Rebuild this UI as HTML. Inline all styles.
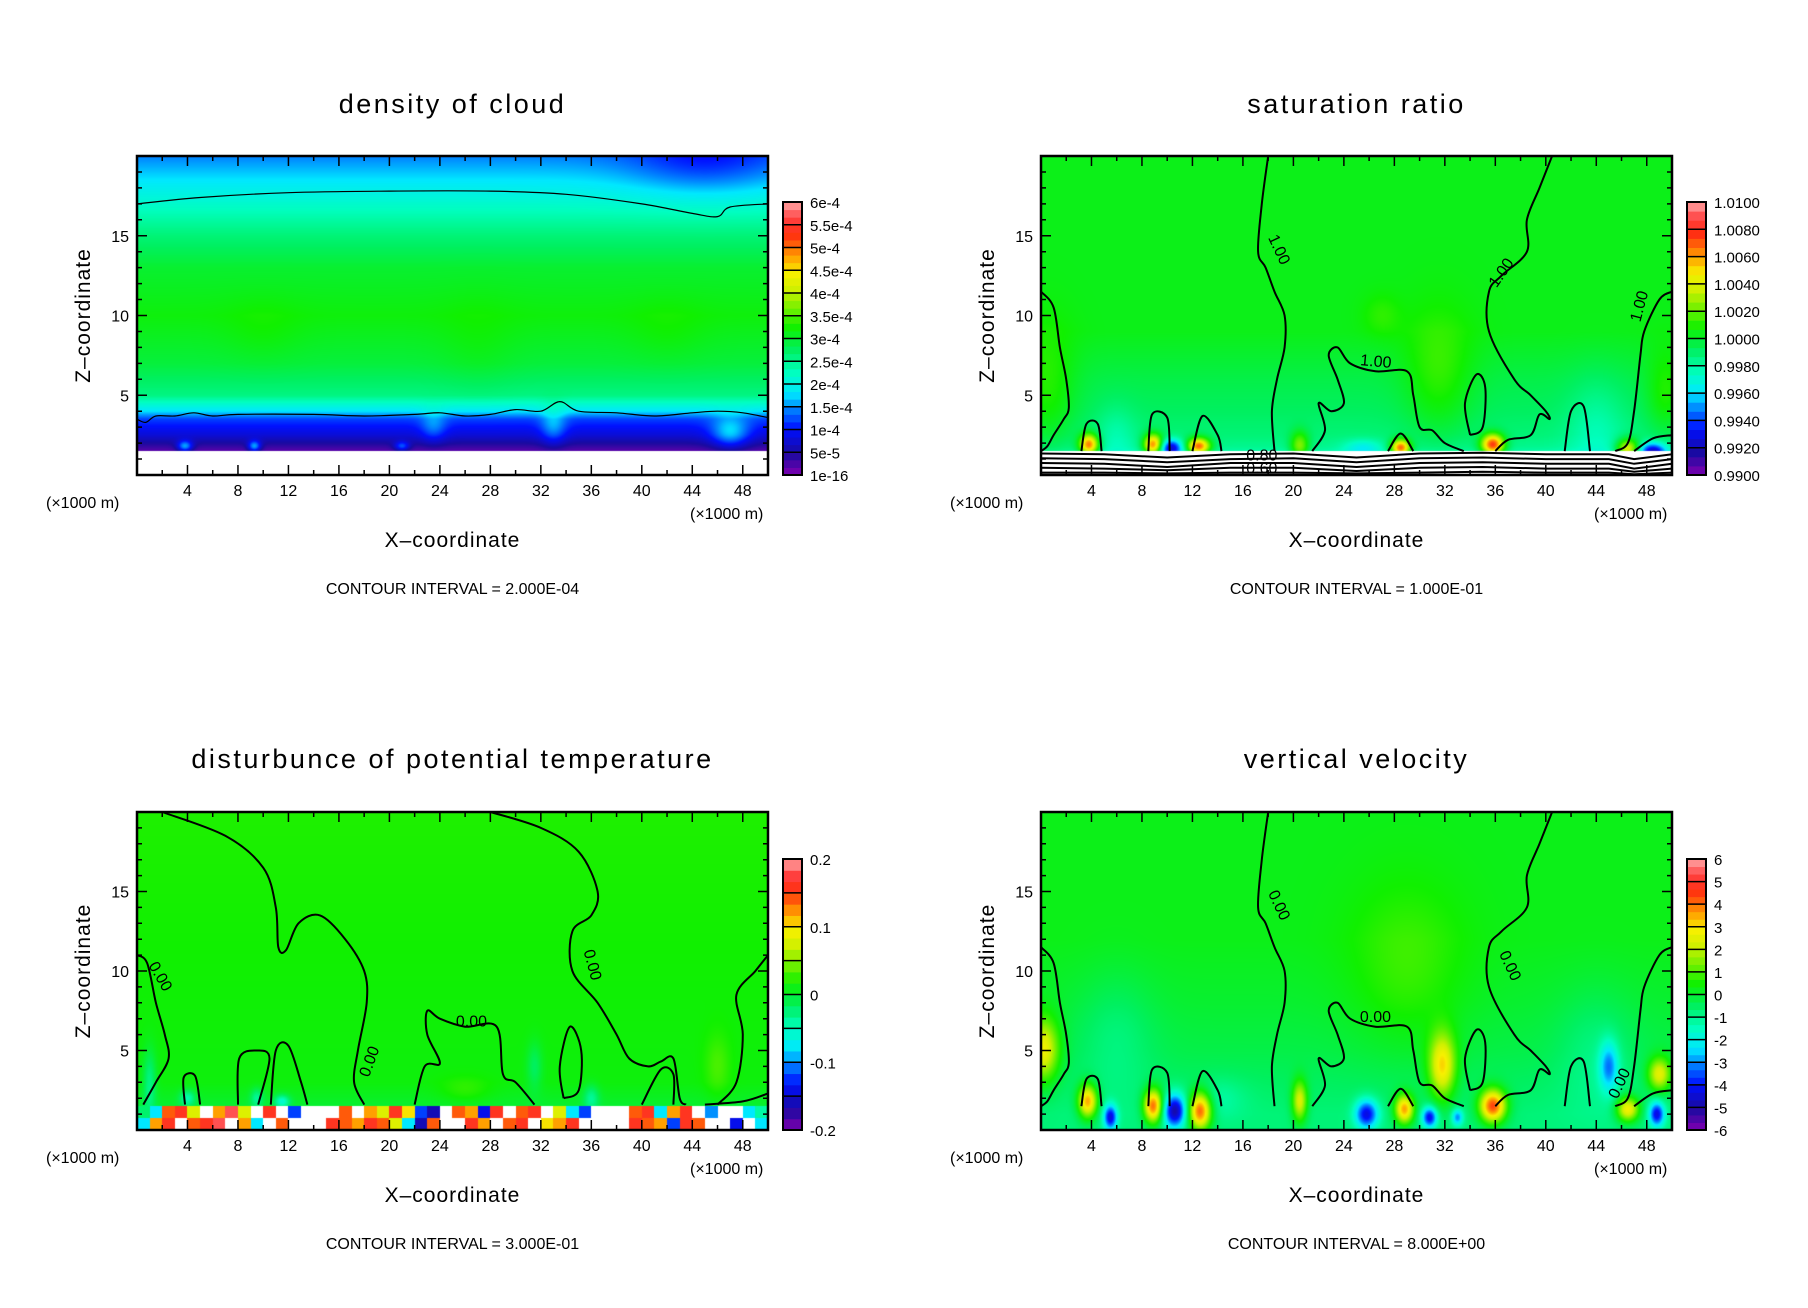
<!DOCTYPE html>
<html><head><meta charset="utf-8"><style>
html,body{margin:0;padding:0;background:#fff;width:1808px;height:1308px;overflow:hidden}
canvas{position:absolute}
#ov{position:absolute;left:0;top:0}
text{font-family:"Liberation Sans",sans-serif;fill:#000}
</style></head><body>
<div id="root"></div>
<svg id="ov" width="1808" height="1308"></svg>
<script>
// ---------- colormap ----------
const cmapStops=[0,0.08,0.17,0.25,0.3,0.375,0.46,0.54,0.62,0.68,0.74,0.8,0.88,0.94,1];
const cmapColors=['#8000b0','#1a0aa0','#0010ff','#0090ff','#00e8ff','#00ffc0','#00f060','#10f000','#80f000','#d0f000','#f8f000','#ffa000','#ff3010','#ff4040','#ffa8a8'];
// ---------- density ----------
const densBaseZ=[1.5,1.9,2.5,3.5,4,5,7,10,13,15,17,18.5,20];
const densBaseV=[0.03,0.07,0.13,0.2,0.3,0.43,0.49,0.53,0.5,0.44,0.36,0.3,0.24];
const densBlobs=[[3.8,1.8,0.6,0.35,0.2],[9.3,1.8,0.5,0.35,0.2],[21,1.8,0.6,0.3,0.15],[23.5,3,1,1,0.08],[33,3,1,1.2,0.1],[47,2.6,1.5,1,0.15],[45,19.5,6,2,-0.08],[10,9,3,2,0.02],[27,8,3,3,0.02],[42,9,3,2,0.02]];
const densLabels=['1e-16','5e-5','1e-4','1.5e-4','2e-4','2.5e-4','3e-4','3.5e-4','4e-4','4.5e-4','5e-4','5.5e-4','6e-4'];
const densLines=[
 [[0,17],[5,17.4],[12,17.7],[20,17.8],[28,17.8],[34,17.6],[40,17],[44,16.4],[46,16.2],[47,16.8],[50,17]],
 [[0,3.5],[0.7,3.3],[1.5,3.7],[3,3.7],[4.5,3.9],[6,3.7],[8,3.8],[14,3.8],[18,3.7],[22,3.8],[24,3.9],[26,3.7],[28,3.8],[30,4.1],[32,4],[33.5,4.6],[35,4],[38,3.9],[41,3.7],[44,3.9],[46,4],[48,3.9],[50,3.6]]];
// ---------- saturation ----------
const satBaseZ=[1.5,1.8,2.5,4,6,9,20];
const satBaseV=[0.4,0.42,0.44,0.46,0.48,0.52,0.52];
const satBlobs=[[3.8,1.9,0.5,0.5,0.4],[8.9,1.9,0.5,0.5,0.4],[12.5,1.8,0.6,0.4,0.42],[20.5,1.8,0.5,0.7,0.2],[28.5,1.7,0.5,0.4,0.42],[35.8,1.9,0.6,0.5,0.45],[46.5,1.6,0.6,0.5,0.3],[0.5,5,1.5,3,0.08],[31.5,6,1.8,3,0.08],[27,10,1,1,0.04],[49.5,5,1,2,0.08],[10.3,1.7,0.6,0.4,-0.3],[48.5,1.5,0.7,0.4,-0.3],[25.5,1.7,1,0.4,-0.1],[6,2.5,1,1.5,-0.05],[44,3,1.5,2.5,-0.06]];
const satLabels=['0.9900','0.9920','0.9940','0.9960','0.9980','1.0000','1.0020','1.0040','1.0060','1.0080','1.0100'];
const satBottomX=[0,5,10,15,20,25,30,35,40,45,47,50];
const satBottomZ=[[1.35,1.3,1.1,1.3,1.35,1.1,1.35,1.4,1.3,1.3,1.0,1.3],[1.05,1.0,0.8,1.0,1.05,0.8,1.05,1.1,1.0,1.0,0.7,1.0],[0.75,0.7,0.5,0.75,0.75,0.5,0.75,0.8,0.7,0.7,0.4,0.7],[0.45,0.4,0.3,0.45,0.45,0.25,0.45,0.5,0.4,0.4,0.2,0.4],[0.15,0.15,0.1,0.15,0.15,0.1,0.15,0.2,0.15,0.15,0.05,0.15]];
// ---------- theta ----------
const thBaseZ=[1.5,3,20];
const thBaseV=[0.5,0.53,0.55];
const thBlobs=[[1,3,0.5,2,-0.1],[4,2,0.6,0.5,-0.12],[9.5,2,0.5,0.6,-0.1],[11.5,1.8,0.6,0.4,-0.15],[31.5,4,0.6,1.5,-0.07],[36,2,0.6,0.8,-0.1],[46,4,1,2,0.05],[26,2.5,2,0.8,0.04]];
const thLabels=['-0.2','','-0.1','','0','','0.1','','0.2'];
const thStripTop=[0.45,0.3,0.85,0.9,0.7,-1,0.8,0.95,0.7,-1,0.9,-1,0.2,-1,-1,-1,0.85,-1,0.8,0.7,0.9,0.75,0.2,0.1,-1,0.85,0.8,0.15,0.9,-1,0.85,0.9,-1,0.7,0.3,0.2,-1,-1,-1,0.85,0.9,0.3,0.8,0.9,-1,0.25,-1,-1,0.3,0.4];
const thStripBot=[0.3,0.8,0.9,-1,0.85,0.9,0.95,-1,0.8,0.3,-1,0.85,-1,-1,-1,0.9,0.85,0.8,0.9,0.85,0.7,0.3,0.1,0.85,-1,-1,0.9,0.8,-1,0.85,0.9,-1,0.75,0.8,0.9,-1,-1,-1,-1,0.9,0.85,0.8,0.2,0.9,0.85,-1,-1,0.15,-1,0.3];
const thLines=[
 [[2,20],[7,18.5],[10,16.5],[11,14],[11.2,11.5],[11.8,11.3],[12.8,13],[14.5,13.5],[16.5,12],[18,10],[18.2,8],[17.5,5],[17.2,3],[18,1.6]],
 [[0,11],[0.8,10.5],[1.5,8],[2.2,6],[2.5,4.5],[1.5,3],[0.5,1.6]],
 [[28,20],[32,19],[35,17.5],[36.5,15],[36,13.5],[34.5,12.5],[34.5,10],[36.5,8],[38,6],[39,4.5],[40.5,4],[41.5,4.3],[42.5,4.5],[43,2],[43.5,1.6]],
 [[3.8,1.6],[3.7,3.3],[4.6,3.4],[5,1.6]],
 [[8,1.6],[8.1,4.5],[9.5,5],[10.5,4.5],[9.6,1.6]],
 [[10.6,1.6],[11,5],[12,5.3],[13,3],[13.5,1.6]],
 [[22,1.6],[22.8,4],[24,4.2],[23,6],[23,7.5],[24,7],[26,6.5],[28.5,6.5],[29,3.5],[30,3],[31.5,1.6]],
 [[33.8,2],[33.5,4],[34.3,6.5],[35.2,5],[35,2.5],[33.8,2]],
 [[40,1.6],[41.5,3.8],[42.5,3.5],[42.5,1.6]],
 [[50,11],[49,10],[47.5,8.5],[48,6],[47.5,3],[46,1.6]],
 [[45,1.6],[48,1.8],[50,2.3]]];
// ---------- vertical velocity ----------
const wBaseZ=[0,1,2,3,5,8,12,20];
const wBaseV=[0.44,0.44,0.45,0.46,0.48,0.5,0.52,0.52];
const wBlobs=[[3.7,1.8,0.5,0.8,0.35],[8.9,1.5,0.5,0.8,0.4],[12.6,1.2,0.6,0.9,0.42],[20.5,1.8,0.4,1,0.25],[28.8,1.3,0.5,0.7,0.35],[31.8,4,0.7,1.6,0.28],[35.8,1.5,0.7,0.8,0.42],[46.5,1.3,0.6,0.6,0.3],[49,3.5,0.6,0.8,0.25],[0.2,5,0.8,1.5,0.25],[29,10,3,4,0.06],[5.5,0.8,0.35,0.6,-0.3],[10.6,1.2,0.6,0.8,-0.35],[25.8,1,0.6,0.7,-0.3],[30.8,0.8,0.4,0.5,-0.3],[33,0.8,0.3,0.4,-0.2],[45,4,0.5,1.2,-0.2],[48.8,1,0.4,0.6,-0.3],[14,2,1.5,1,-0.05],[6,6,2,3,-0.05],[44,5,2,3,-0.05]];
const wLabels=['-6','-5','-4','-3','-2','-1','0','1','2','3','4','5','6'];
const sharedLines=[
 [[0,11.5],[1,10.5],[1.5,8],[2,6],[2.2,4.2],[1.8,3.5],[1,2.5],[0.5,1.8],[0,1.5]],
 [[18,20],[17.5,17],[17.2,14],[17.8,13],[18.5,11.5],[19.3,10],[19.3,8],[18.7,6],[18.3,4],[18.5,1.5]],
 [[21.5,1.5],[22.5,2.8],[22,4.5],[23,4],[24,4.5],[23.5,6],[22.8,7.5],[23.5,8],[24.5,7],[26.5,6.5],[29,6.5],[29.5,5],[30,3],[31,2.8],[32,2],[33.5,1.5]],
 [[40.5,20],[39.5,18],[38.5,16],[38.5,14],[36.5,12.5],[35.5,11.5],[35.5,9],[37.5,6],[38.8,5],[40,4],[40.3,3.5],[39.5,3.8],[38.8,2.5],[37,2.2],[36,1.5]],
 [[34,2.5],[33.6,4.5],[34.5,6.3],[35.2,5.5],[35,3],[34,2.5]],
 [[3.2,1.5],[3.6,3.2],[4.5,3.2],[4.8,1.5]],
 [[8.5,1.5],[8.8,3.8],[10,3.6],[10.2,1.5]],
 [[12,1.5],[12.8,3.7],[14,2.5],[14.3,1.5]],
 [[27.5,1.5],[28.5,2.6],[29.5,1.5]],
 [[41.5,1.5],[42,4],[43,4.3],[43.5,1.5]],
 [[50,11.5],[49,11],[47.8,9],[47.5,7.5],[47,4],[46.5,2],[45.5,1.5]],
 [[50,2.5],[48.5,2.3],[47,1.5]]];

const NS='http://www.w3.org/2000/svg';
const ov=document.getElementById('ov');
function hex(c){return [parseInt(c.substr(1,2),16),parseInt(c.substr(3,2),16),parseInt(c.substr(5,2),16)];}
const cmapRGB=cmapColors.map(hex);
function cmap(t){t=Math.max(0,Math.min(1,t));for(let i=1;i<cmapStops.length;i++){if(t<=cmapStops[i]){const f=(t-cmapStops[i-1])/(cmapStops[i]-cmapStops[i-1]);const a=cmapRGB[i-1],b=cmapRGB[i];return [a[0]+(b[0]-a[0])*f,a[1]+(b[1]-a[1])*f,a[2]+(b[2]-a[2])*f];}}return cmapRGB[cmapRGB.length-1];}
function interp(xs,ys,x){if(x<=xs[0])return ys[0];for(let i=1;i<xs.length;i++){if(x<=xs[i]){return ys[i-1]+(ys[i]-ys[i-1])*(x-xs[i-1])/(xs[i]-xs[i-1]);}}return ys[ys.length-1];}
function el(tag,parent){const e=document.createElementNS(NS,tag);parent.appendChild(e);return e;}
function txt(parent,x,y,s,size,anchor,name){const t=el('text',parent);t.setAttribute('x',x);t.setAttribute('y',y);t.setAttribute('font-size',size);t.setAttribute('text-anchor',anchor||'middle');t.textContent=s;return t;}
function smoothPath(pts){let d='M'+pts[0][0].toFixed(1)+','+pts[0][1].toFixed(1);for(let i=0;i<pts.length-1;i++){const p0=pts[Math.max(0,i-1)],p1=pts[i],p2=pts[i+1],p3=pts[Math.min(pts.length-1,i+2)];const c1=[p1[0]+(p2[0]-p0[0])/6,p1[1]+(p2[1]-p0[1])/6],c2=[p2[0]-(p3[0]-p1[0])/6,p2[1]-(p3[1]-p1[1])/6];d+=`C${c1[0].toFixed(1)},${c1[1].toFixed(1)} ${c2[0].toFixed(1)},${c2[1].toFixed(1)} ${p2[0].toFixed(1)},${p2[1].toFixed(1)}`;}return d;}

function panel(cfg){
 const L=cfg.left,T=cfg.top,W=631,H=cfg.h;const kx=cfg.kx||1,kz=cfg.kz||1;
 const sx=x=>L+x/50*W, sz=z=>T+H-z/20*H;
 const g=el('g',ov);
 const cv=document.createElement('canvas');cv.width=W;cv.height=H;cv.style.left=L+'px';cv.style.top=T+'px';
 
 document.body.insertBefore(cv,ov);
 const ctx=cv.getContext('2d');const img=ctx.createImageData(W,H);
 for(let py=0;py<H;py++){const z=(H-py-0.5)/H*20;
  for(let px=0;px<W;px++){const x=(px+0.5)/W*50;let rgb;
   if(z<cfg.zmin){rgb=cfg.below?cfg.below(x,z):[255,255,255];}
   else{let v=interp(cfg.bz,cfg.bv,z);for(const b of cfg.blobs){const dx=(x-b[0])/(b[2]*kx),dz=(z-b[1])/(b[3]*kz);v+=b[4]*Math.exp(-dx*dx-dz*dz);}rgb=cmap(v);}
   const k=(py*W+px)*4;img.data[k]=rgb[0];img.data[k+1]=rgb[1];img.data[k+2]=rgb[2];img.data[k+3]=255;}}
 ctx.putImageData(img,0,0);
 for(const ln of cfg.lines){const p=el('path',g);p.setAttribute('d',smoothPath(ln.map(q=>[sx(q[0]),sz(q[1])])));p.setAttribute('fill','none');p.setAttribute('stroke','#000');p.setAttribute('stroke-width',cfg.lw||2);}
 if(cfg.extra)cfg.extra(g,sx,sz);
 for(const lb of cfg.clabels||[]){const t=txt(g,sx(lb[0]),sz(lb[1]),lb[2],16,'middle','contour-label');t.setAttribute('transform','rotate('+lb[3]+' '+sx(lb[0])+' '+sz(lb[1])+')');}
 const fr=el('rect',g);fr.setAttribute('x',L);fr.setAttribute('y',T);fr.setAttribute('width',W);fr.setAttribute('height',H);fr.setAttribute('fill','none');fr.setAttribute('stroke','#000');fr.setAttribute('stroke-width',2.5);
 let d='';
 for(let x=2;x<50;x+=2){const len=(x%4==0)?10:5;const X=sx(x);d+=`M${X},${T}v${len}M${X},${T+H}v${-len}`;}
 for(let z=1;z<20;z++){const len=(z%5==0)?10:5;const Y=sz(z);d+=`M${L},${Y}h${len}M${L+W},${Y}h${-len}`;}
 const tk=el('path',g);tk.setAttribute('d',d);tk.setAttribute('stroke','#000');tk.setAttribute('stroke-width',1.5);
 for(let x=4;x<50;x+=4)txt(g,sx(x),T+H+21,String(x),16,'middle','x-tick-label');
 for(let z=5;z<20;z+=5)txt(g,L-8,sz(z)+6,String(z),16,'end','y-tick-label');
 txt(g,L-91,T+H+33,'(×1000 m)',16,'start','x-unit-left');
 txt(g,L+553,T+H+44,'(×1000 m)',16,'start','x-unit-right');
 txt(g,L+W/2,T+H+72,'X–coordinate',21,'middle','x-axis-title').setAttribute('letter-spacing','1');
 const zt=txt(g,0,0,'Z–coordinate',21,'middle','y-axis-title');zt.setAttribute('transform',`translate(${L-47},${T+H/2}) rotate(-90)`);zt.setAttribute('letter-spacing','1');
 txt(g,L+W/2,cfg.titleY,cfg.title,27,'middle','chart-title').setAttribute('letter-spacing','2.5');
 txt(g,L+W/2,T+H+119,cfg.ci,16,'middle','contour-interval-note');
 const cbL=L+646,cbW=19,cbT=cfg.cbTop,cbB=T+H;const n=cfg.labels.length-1;const bh=(cbB-cbT)/n;
 const cg=el('g',g);
 for(let i=0;i<n;i++){
  for(let j=0;j<3;j++){const r=el('rect',cg);const t=(i+(j+0.5)/3)/n;const c=cmap(t);r.setAttribute('x',cbL);r.setAttribute('y',cbB-(i+(j+1)/3)*bh);r.setAttribute('width',cbW);r.setAttribute('height',bh/3+0.5);r.setAttribute('fill',`rgb(${c[0]|0},${c[1]|0},${c[2]|0})`);}
  const ln=el('line',cg);ln.setAttribute('x1',cbL);ln.setAttribute('x2',cbL+cbW);ln.setAttribute('y1',cbB-i*bh);ln.setAttribute('y2',cbB-i*bh);ln.setAttribute('stroke','#000');ln.setAttribute('stroke-width',1.5);}
 const cb=el('rect',cg);cb.setAttribute('x',cbL);cb.setAttribute('y',cbT);cb.setAttribute('width',cbW);cb.setAttribute('height',cbB-cbT);cb.setAttribute('fill','none');cb.setAttribute('stroke','#000');cb.setAttribute('stroke-width',2);
 cfg.labels.forEach((s,i)=>{if(s)txt(cg,cbL+27,cbB-i*bh+6,s,15,'start','colorbar-label');});
}

panel({name:'density-panel',left:137,top:156,h:319,titleY:113,title:'density of cloud',ci:'CONTOUR INTERVAL = 2.000E-04',cbTop:202,zmin:1.5,bz:densBaseZ,bv:densBaseV,blobs:densBlobs,labels:densLabels,lines:densLines,lw:1.2});
panel({name:'saturation-panel',left:1041,top:156,h:319,titleY:113,title:'saturation ratio',ci:'CONTOUR INTERVAL = 1.000E-01',cbTop:202,zmin:1.5,kx:1.5,kz:1.3,bz:satBaseZ,bv:satBaseV,blobs:satBlobs,labels:satLabels,lines:sharedLines,
 clabels:[[18.5,14,'1.00',65],[36.8,12.5,'1.00',-55],[26.5,6.8,'1.00',5],[47.8,10.5,'1.00',-75],[17.5,0.9,'0.80',0],[17.5,0.1,'0.60',0]],
 extra:(g,sx,sz)=>{for(const row of satBottomZ){const p=el('polyline',g);p.setAttribute('points',row.map((z,i)=>sx(satBottomX[i]).toFixed(1)+','+sz(z).toFixed(1)).join(' '));p.setAttribute('fill','none');p.setAttribute('stroke','#000');p.setAttribute('stroke-width',2);}}});
panel({name:'theta-panel',left:137,top:812,h:318,titleY:768,title:'disturbunce of potential temperature',ci:'CONTOUR INTERVAL = 3.000E-01',cbTop:859,zmin:1.5,bz:thBaseZ,bv:thBaseV,blobs:thBlobs,labels:thLabels,lines:thLines,
 clabels:[[1.5,9.5,'0.00',60],[18.8,4.2,'0.00',-70],[26.5,6.5,'0.00',0],[35.7,10.3,'0.00',75]],
 below:(x,z)=>{const i=Math.min(49,Math.floor(x));const v=z>0.75?thStripTop[i]:thStripBot[i];return v<0?[255,255,255]:cmap(v);}});
panel({name:'velocity-panel',left:1041,top:812,h:318,titleY:768,title:'vertical velocity',ci:'CONTOUR INTERVAL = 8.000E+00',cbTop:859,zmin:-1,kx:1.5,kz:1.3,bz:wBaseZ,bv:wBaseV,blobs:wBlobs,labels:wLabels,lines:sharedLines,
 clabels:[[18.5,14,'0.00',65],[36.8,10.2,'0.00',65],[26.5,6.8,'0.00',0],[46.2,2.8,'0.00',-65]]});
</script>
</body></html>
